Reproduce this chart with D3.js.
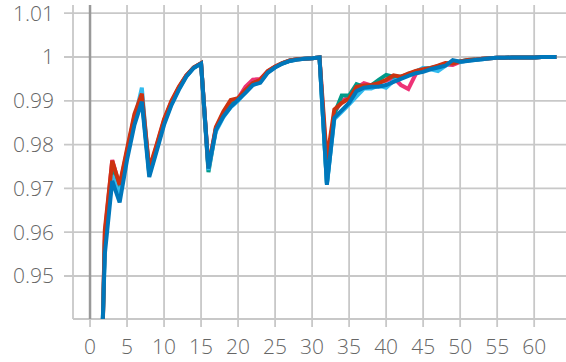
<!DOCTYPE html>
<html>
<head>
<meta charset="utf-8">
<script src="https://cdn.jsdelivr.net/npm/d3@7"></script>
<style>
	body { margin: 0; background: #fff; }
	text { font-family: "Open Sans", sans-serif; font-weight: 300; }
</style>
</head>
<body>
<svg id="chart" width="566" height="362"></svg>
<script>
// epochs 1..63
let epochs		= d3.range(1, 64);

let blueVals	= [0.900, 0.955, 0.9717, 0.9668, 0.9765, 0.9845, 0.9898, 0.9726, 0.9785, 0.9845,
	0.9890, 0.9925, 0.9955, 0.9975, 0.9985, 0.9745, 0.9833, 0.9864, 0.9886, 0.9902,
	0.9918, 0.9936, 0.9941, 0.9964, 0.9976, 0.9985, 0.9991, 0.9994, 0.9996, 0.9997,
	0.9999, 0.9708, 0.9861, 0.9878, 0.9895, 0.9922, 0.9930, 0.9932, 0.9932, 0.9936,
	0.9943, 0.9950, 0.9957, 0.9963, 0.9966, 0.9972, 0.9976, 0.9980, 0.9993, 0.9989,
	0.9991, 0.9993, 0.9995, 0.9997, 0.9998, 0.9998, 0.9999, 0.9999, 0.9999, 0.9999,
	1.0000, 1.0000, 1.0000];
let redVals		= [0.880, 0.9605, 0.9763, 0.9708, 0.9790, 0.9870, 0.9916, 0.9745, 0.9800, 0.9858,
	0.9900, 0.9932, 0.9958, 0.9976, 0.9986, 0.9748, 0.9840, 0.9875, 0.9902, 0.9906,
	0.9925, 0.9940, 0.9948, 0.9968, 0.9978, 0.9986, 0.9992, 0.9995, 0.9996, 0.9997,
	0.9999, 0.9765, 0.9880, 0.9895, 0.9905, 0.9932, 0.9935, 0.9936, 0.9940, 0.9948,
	0.9958, 0.9955, 0.9962, 0.9968, 0.9972, 0.9975, 0.9980, 0.9986, 0.9985, 0.9990,
	0.9993, 0.9994, 0.9996, 0.9997, 0.9998, 0.9998, 0.9999, 0.9999, 0.9999, 0.9999,
	1.0000, 1.0000, 1.0000];
let cyanVals	= [0.895, 0.957, 0.9730, 0.9685, 0.9775, 0.9855, 0.9930, 0.9732, 0.9790, 0.9850,
	0.9893, 0.9927, 0.9956, 0.9975, 0.9985, 0.9742, 0.9830, 0.9862, 0.9885, 0.9900,
	0.9920, 0.9938, 0.9943, 0.9965, 0.9977, 0.9985, 0.9991, 0.9994, 0.9996, 0.9997,
	0.9999, 0.9710, 0.9858, 0.9875, 0.9892, 0.9910, 0.9928, 0.9928, 0.9935, 0.9930,
	0.9945, 0.9952, 0.9962, 0.9966, 0.9975, 0.9972, 0.9968, 0.9980, 0.9990, 0.9988,
	0.9992, 0.9993, 0.9995, 0.9997, 0.9998, 0.9998, 0.9999, 0.9999, 0.9999, 0.9999,
	1.0000, 1.0000, 1.0000];
let tealVals	= [0.890, 0.958, 0.9740, 0.9690, 0.9778, 0.9858, 0.9905, 0.9735, 0.9792, 0.9852,
	0.9895, 0.9929, 0.9957, 0.9976, 0.9985, 0.9737, 0.9835, 0.9866, 0.9890, 0.9903,
	0.9922, 0.9940, 0.9946, 0.9966, 0.9977, 0.9986, 0.9992, 0.9995, 0.9996, 0.9997,
	0.9999, 0.9712, 0.9870, 0.9912, 0.9912, 0.9938, 0.9932, 0.9935, 0.9948, 0.9959,
	0.9955, 0.9955, 0.9960, 0.9967, 0.9973, 0.9975, 0.9978, 0.9984, 0.9987, 0.9990,
	0.9993, 0.9994, 0.9996, 0.9997, 0.9998, 0.9998, 0.9999, 0.9999, 0.9999, 0.9999,
	1.0000, 1.0000, 1.0000];
let pinkVals	= [0.885, 0.9595, 0.9765, 0.9705, 0.9785, 0.9865, 0.9910, 0.9740, 0.9797, 0.9855,
	0.9898, 0.9930, 0.9957, 0.9976, 0.9985, 0.9745, 0.9838, 0.9870, 0.9895, 0.9905,
	0.9932, 0.9948, 0.9950, 0.9967, 0.9978, 0.9986, 0.9992, 0.9995, 0.9996, 0.9997,
	0.9999, 0.9740, 0.9872, 0.9900, 0.9908, 0.9930, 0.9940, 0.9935, 0.9942, 0.9946,
	0.9953, 0.9936, 0.9927, 0.9961, 0.9970, 0.9974, 0.9979, 0.9983, 0.9982, 0.9989,
	0.9992, 0.9994, 0.9996, 0.9997, 0.9998, 0.9998, 0.9999, 0.9999, 0.9999, 0.9999,
	1.0000, 1.0000, 1.0000];

let seriesList	= [pinkVals, tealVals, cyanVals, redVals, blueVals];
let colorList	= ['#EE3377', '#009988', '#33BBEE', '#CC3311', '#0077BB'];

let xTicks		= [0, 5, 10, 15, 20, 25, 30, 35, 40, 45, 50, 55, 60];
let yTicks		= [0.95, 0.96, 0.97, 0.98, 0.99, 1, 1.01];

let padL = 73, padR = 566, padT = 5, padB = 319;

let svg		= d3.select('#chart');
let x		= d3.scaleLinear().domain([-2.3, 64.3]).range([padL, padR]);
let y		= d3.scaleLinear().domain([0.94018, 1.01187]).range([padB, padT]);

// grid + ticks
let grid	= svg.append('g').attr('stroke', '#c8c8c8').attr('stroke-width', 1.8);
grid.selectAll('.vg').data(xTicks).join('line').attr('x1', (d) => x(d)).attr('x2', (d) => x(d)).attr('y1', padT).attr('y2', padB + 8);
grid.selectAll('.hg').data(yTicks).join('line').attr('x1', padL - 9).attr('x2', padR).attr('y1', (d) => y(d)).attr('y2', (d) => y(d));
grid.append('line').attr('x1', padL).attr('x2', padL).attr('y1', padT).attr('y2', padB);
grid.append('line').attr('x1', padL).attr('x2', padR).attr('y1', padB).attr('y2', padB);

// zero line
svg.append('line').attr('x1', x(0)).attr('x2', x(0)).attr('y1', padT).attr('y2', padB).attr('stroke', '#999').attr('stroke-width', 2.5);

// tick labels
svg.append('g').selectAll('text').data(xTicks).join('text')
	.attr('x', (d) => x(d)).attr('y', 354).attr('text-anchor', 'middle')
	.style('font-size', '21px').style('fill', '#666').text((d) => d);
svg.append('g').selectAll('text').data(yTicks).join('text')
	.attr('x', 54).attr('y', (d) => y(d) + 7.5).attr('text-anchor', 'end')
	.style('font-size', '21px').style('fill', '#666').text((d) => d);

svg.append('clipPath').attr('id', 'clip').append('rect').attr('x', padL).attr('y', padT).attr('width', padR - padL).attr('height', padB - padT);

let line	= d3.line().x((d, i) => x(epochs[i])).y((d) => y(d));
svg.append('g').attr('clip-path', 'url(#clip)').selectAll('path').data(seriesList).join('path')
	.attr('d', line).attr('fill', 'none').attr('stroke', (d, i) => colorList[i]).attr('stroke-width', 4);
</script>
</body>
</html>
